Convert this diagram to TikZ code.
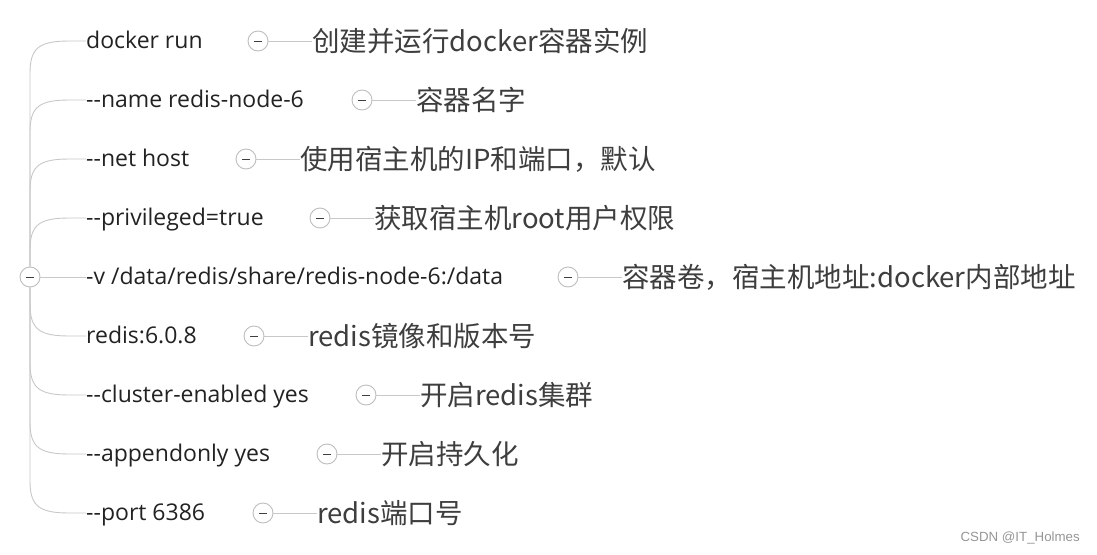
\documentclass[tikz,border=0pt]{standalone}
\usepackage{fontspec}
\setmainfont{Open Sans}[Ligatures=TeXOff]
\newfontfamily\cjk{Noto Sans CJK SC}[Ligatures=TeXOff]
\newfontfamily\wmfont{Liberation Sans}
\usetikzlibrary{positioning}
\definecolor{BranchGray}{RGB}{200,200,200}
\definecolor{KnobGray}{RGB}{190,190,190}
\definecolor{TextDark}{RGB}{34,34,34}
\definecolor{NoteDark}{RGB}{62,62,62}
\definecolor{MarkGray}{RGB}{150,150,150}

\begin{document}
\begin{tikzpicture}[x=1pt,y=-1pt,
    branch/.style={draw=BranchGray, line width=0.9pt},
    knob/.style={circle, draw=KnobGray, fill=white, line width=0.9pt, minimum size=20pt, inner sep=0pt,
                 path picture={\draw[NoteDark, line width=0.9pt]
                   ([xshift=-4pt]path picture bounding box.center) -- ([xshift=4pt]path picture bounding box.center);}},
    cmd/.style={anchor=west, inner sep=0pt, font=\fontsize{23}{26}\selectfont, text=TextDark,
                text height=17pt, text depth=2pt},
    note/.style={anchor=west, inner sep=0pt, font=\cjk\fontsize{27.5}{32}\selectfont, text=NoteDark},
    wm/.style={anchor=east, inner sep=0pt, font=\wmfont\fontsize{13.3}{15}\selectfont, text=MarkGray}
]
    \useasboundingbox[fill=white] (0,0) rectangle (1097,554);
    \node[knob] (root) at (30,277) {};
    % options of docker run, one row each
    \foreach \i/\cmdtext/\bx/\desc in {
        1/{docker run}/258/{创建并运行docker容器实例},
        2/{--name redis-node-6}/362/{容器名字},
        3/{--net host}/246/{使用宿主机的IP和端口，默认},
        4/{--privileged=true}/320/{获取宿主机root用户权限},
        5/{-v /data/redis/share/redis-node-6:/data}/568/{容器卷，宿主机地址:docker内部地址},
        6/{redis:6.0.8}/254/{redis镜像和版本号},
        7/{--cluster-enabled yes}/366/{开启redis集群},
        8/{--appendonly yes}/327/{开启持久化},
        9/{--port 6386}/263/{redis端口号}} {
        \pgfmathsetmacro\ry{41+(\i-1)*59}
        \node[cmd] (c\i) at (86,\ry) {\cmdtext};
        \node[knob] (k\i) at (\bx,\ry) {};
        \node[note] (n\i) at (\bx+54,\ry) {\desc};
        \draw[branch] (k\i.east) -- (n\i.west);
        \ifnum\i<5
            \draw[branch] (root.north) -- (30,\ry+32) .. controls (30,\ry+6) and (40,\ry) .. (70,\ry) -- (c\i.west);
        \else\ifnum\i>5
            \draw[branch] (root.south) -- (30,\ry-32) .. controls (30,\ry-6) and (40,\ry) .. (70,\ry) -- (c\i.west);
        \else
            \draw[branch] (root.east) -- (c\i.west);
        \fi\fi
    }
    \node[wm] (mark) at (1080,538) {CSDN @IT\_Holmes};
\end{tikzpicture}
\end{document}
